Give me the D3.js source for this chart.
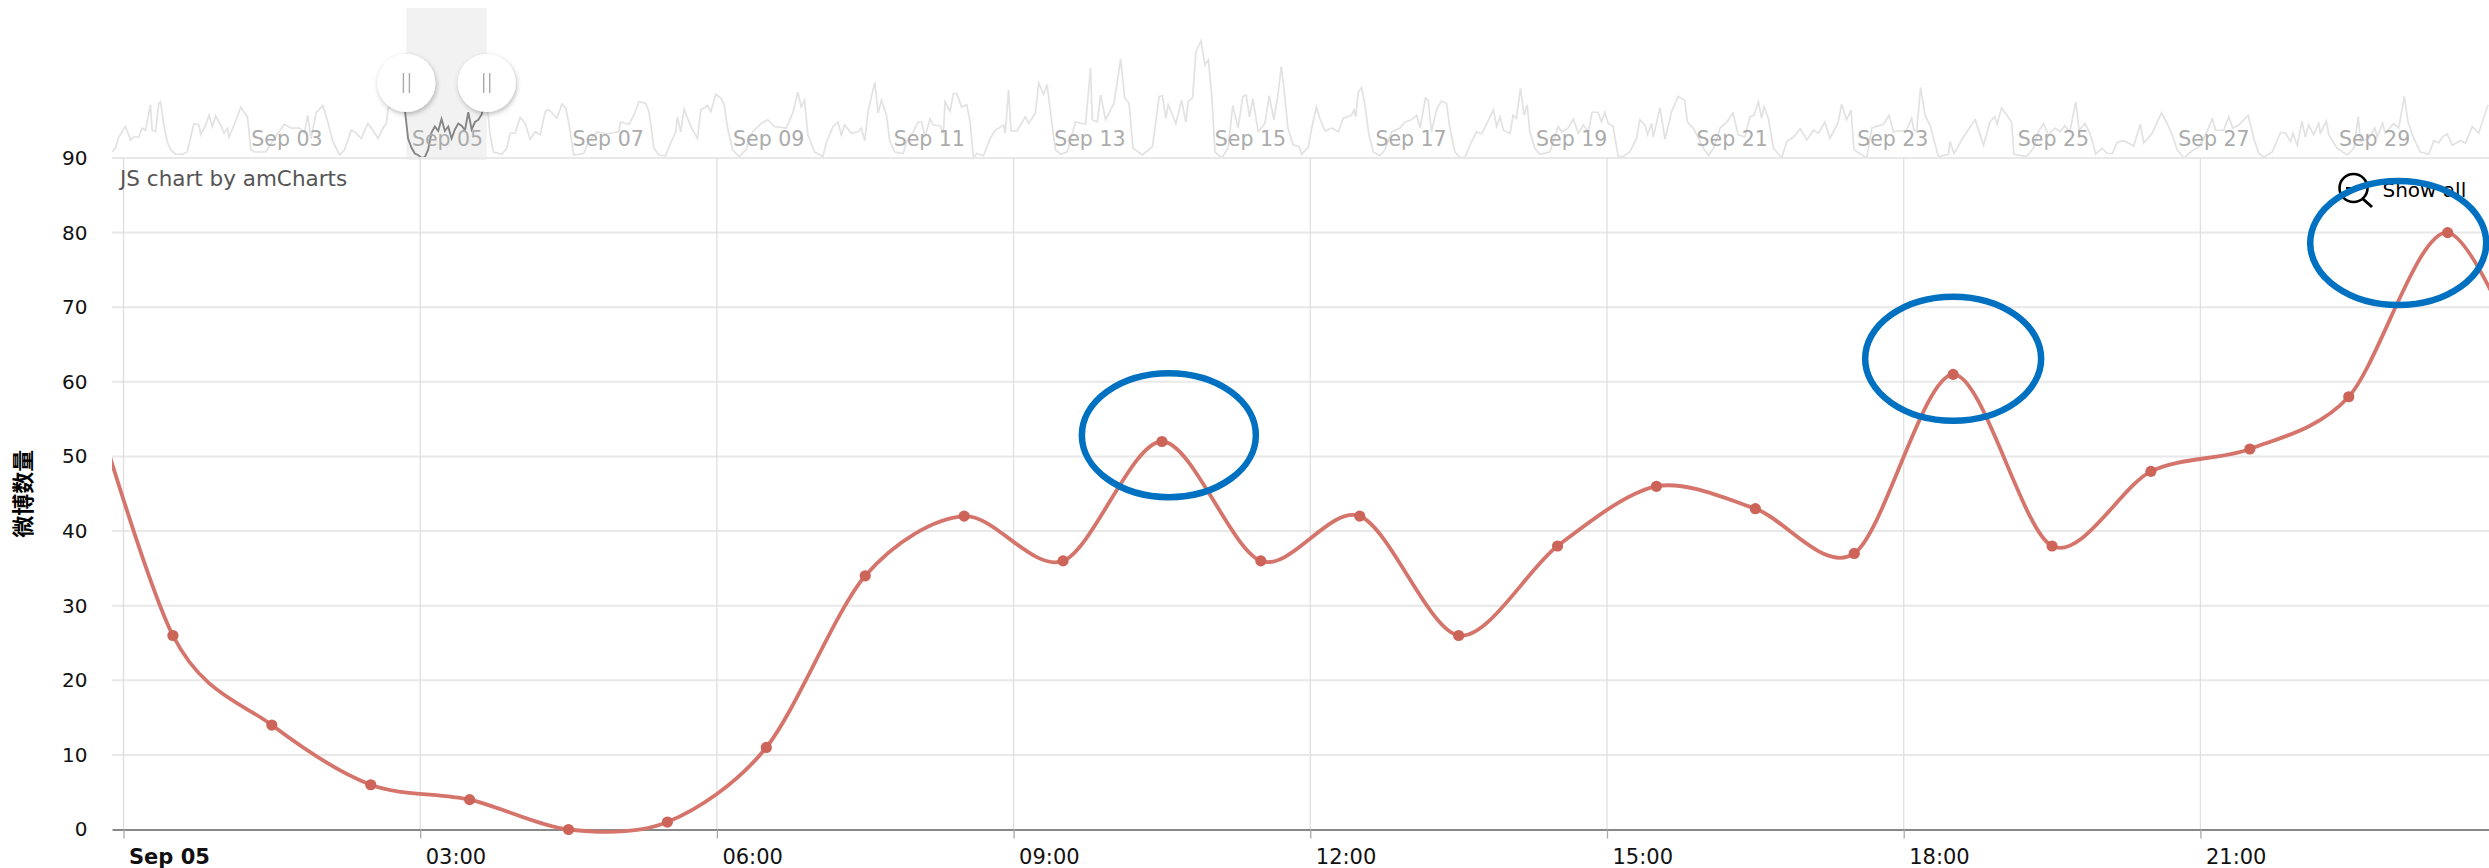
<!DOCTYPE html>
<html><head><meta charset="utf-8">
<script src="https://cdn.jsdelivr.net/npm/d3@7/dist/d3.min.js"></script>
<style>
html,body{margin:0;padding:0;background:#fff}
svg{display:block}
text{font-family:"DejaVu Sans",Verdana,sans-serif}
</style></head><body>
<div id="chart"></div>
<script>
// ---- data ----
const yTicks = [0,10,20,30,40,50,60,70,80,90];
const xTickHours = [0,3,6,9,12,15,18,21];
const navLabelDays = [3,5,7,9,11,13,15,17,19,21,23,25,27,29];
const yTitle = "微博数量";
const creditText = "JS chart by amCharts";
const zoomText = "Show all";
// hourly weibo counts for Sep 05, each at hh:30, with neighbours off-screen
const hourlyHours  = [-0.5,0.5,1.5,2.5,3.5,4.5,5.5,6.5,7.5,8.5,9.5,10.5,11.5,12.5,13.5,14.5,15.5,16.5,17.5,18.5,19.5,20.5,21.5,22.5,23.5,24.5];
const hourlyValues = [66,26,14,6,4,0,1,11,34,42,36,52,36,42,26,38,46,43,37,61,38,48,51,58,80,55];
// annotation rings: peak hour, centre value
const ringHours  = [10.57,18.5,23.0];
const ringValues = [52.85,63.1,78.6];
// overview series: [hours after Sep 1 08:00, value]
const navBefore = [[0,8],[1,13],[2,28],[4,42],[5,31],[5.5,24],[6.5,28],[8,28],[9,40],[10,37],[10.5,48],[11.5,71],[12,37],[13,35],[14,73],[14.5,75],[15.5,44],[16.5,22],[17.5,11],[19,5],[21,5],[22.5,8],[24,37],[24.5,46],[26,44],[26.5,31],[28,44],[29,57],[30,42],[31,56],[32.5,44],[33.5,33],[34.5,40],[35,28],[36.5,44],[38.5,68],[39,64],[40.5,55],[41.5,11],[42.5,8],[46,8],[48.5,26],[51.5,45],[53.5,40],[56,40],[57.5,33],[58.5,57],[59.5,26],[61,60],[63,70],[64.5,48],[66,22],[68,4],[69.5,11],[71.5,37],[72.5,35],[74.5,26],[76.5,46],[78,37],[79.5,26],[81,40],[82,46],[82.5,66],[84.5,72],[87.5,62]];
const navAfter = [[112.5,55],[113,31],[114,8],[116.5,5],[118,13],[119,33],[120.5,33],[122,54],[123.5,46],[125,25],[126.5,35],[128,31],[129.5,62],[130.5,65],[133,53],[134.5,72],[135.7,66],[137,35],[138,4],[141,6],[142.5,22],[145,35],[147.5,32],[151.5,35],[152,48],[154.5,45],[156,57],[157.5,75],[159.5,73],[160.5,62],[162,13],[163.5,4],[165.5,3],[166.5,15],[168.5,35],[169,55],[170,35],[171,65],[173,42],[175,26],[176,64],[178,70],[179,62],[180.5,85],[182,80],[183,71],[184,40],[185.5,11],[187.5,2],[189.5,11],[191.5,35],[194,46],[196,51],[198,42],[201.5,40],[203.5,60],[205,88],[206,68],[207,77],[208,31],[210,8],[212.5,2],[213.5,20],[215.5,42],[217,48],[218,31],[219,44],[221,33],[223,35],[224,40],[225,23],[226,62],[228,101],[229,60],[230,77],[231.5,57],[232.5,22],[234,8],[236.5,6],
[237.5,22],[239.5,35],[241,48],[242,48],[243,28],[244.5,52],[245.5,44],[247.5,43],[248.5,33],[249,75],[250.5,62],[251.5,86],[252.5,86],[254,68],[255.5,71],[256.5,48],[257.5,0],[258.5,6],[260.5,3],[262.5,26],[264,37],[266.5,44],[267,33],[268,91],[268.7,36],[270.5,36],[273,55],[274,46],[276,60],[277,100],[278.5,85],[279.5,98],[280.5,62],[282,11],[283.5,5],[285.5,8],[288,48],[291,45],[292.5,120],[293,51],[294.5,48],[295.5,84],[297,51],[299.5,73],[301.5,132],[302.7,80],[304,73],[305.2,13],[308,4],[311,15],[313,82],[314,83],[315,53],[315.7,71],[318,46],[319.7,77],[321,48],[321.7,76],[323,80],[324,142],[325.5,156],[326.7,124],[327.7,131],[328.7,84],[329.7,8],[331.7,0],[333.6,13],[335,70],[336.6,40],[338,82],[339,84],[340,55],[341,79],[342.6,35],[344.6,46],[345.9,83],[347.3,51],[348.5,84],[349.5,122],[350.2,97],[351.5,40],[353,18],[354.8,15],
[355.6,5],[357.6,15],[358.6,40],[360,68],[361,53],[362.6,36],[364.6,40],[366.6,35],[368,53],[370.5,57],[371.3,64],[371.8,55],[372.5,88],[373.5,94],[374.5,71],[375.7,31],[377,8],[379,3],[380.5,11],[382.5,35],[385,40],[386.5,48],[388.5,51],[390,57],[391,40],[392.6,80],[393.4,77],[394.4,35],[396,66],[397.4,76],[398.9,73],[399.9,40],[401.4,8],[402.9,1],[404.4,1],[406.4,22],[407.9,35],[409.4,32],[412.9,64],[413.9,42],[414.9,55],[415.9,37],[417.9,33],[418.8,57],[419.8,53],[421,93],[422.1,57],[423,71],[423.8,35],[425.3,13],[426.8,5],[429.8,8],[432.3,42],[433.3,35],[435.3,40],[436.8,52],[438.3,33],[439.8,44],[441.3,35],[442.4,61],[444.2,61],[445.2,48],[446.2,61],[447.2,46],[448.7,42],[450.2,2],[451.7,2],[453.7,8],[455.7,26],[456.7,51],[458.2,44],[459,31],[460.2,46],[460.7,28],[462.7,67],[464.2,25],[466.2,62],[468.1,82],[470.1,77],[470.9,48],[472.6,40],
[473.7,31],[475.7,13],[477.2,3],[478.7,13],[480.7,40],[482.7,48],[484.5,60],[486.1,31],[488.1,28],[489.6,55],[490.8,57],[492.1,75],[493.1,53],[493.8,68],[495.1,53],[496.6,13],[499.1,0],[500.6,22],[502.6,28],[504.6,39],[506.6,24],[508.6,37],[510.1,33],[512,48],[513.5,26],[516,48],[517,72],[518.5,51],[519.8,64],[520.7,11],[524.5,0],[526,40],[529.5,45],[531.2,57],[532.5,35],[536.4,37],[537.9,53],[538.6,37],[539.4,35],[540.6,94],[541.9,57],[543.4,44],[545.9,2],[548.9,5],[549.4,22],[550.6,6],[553.4,28],[556.9,51],[559.4,17],[561.3,48],[562.8,55],[563.5,45],[564.8,67],[567.8,48],[568.5,5],[572.3,2],[574.3,13],[575.8,35],[577.3,46],[578.8,31],[580.8,40],[582.3,35],[583.7,43],[585.2,35],[587,75],[588,37],[589.7,46],[591,35],
[592.4,15],[592.9,5],[594.9,13],[596.4,6],[597.9,6],[599.4,21],[601.4,23],[604.3,16],[606.3,45],[607.3,20],[609.8,33],[612.6,60],[614.3,46],[615.8,31],[617.3,11],[619.3,0],[621.3,8],[623.8,15],[625.3,26],[627.8,52],[628.8,37],[631.2,37],[632.7,55],[633.9,40],[635.7,44],[638.5,57],[640.2,26],[641.7,6],[643.2,1],[645.7,8],[648.2,34],[649.7,33],[651.2,22],[651.9,33],[653.2,17],[654.6,49],[655.6,28],[656.6,44],[658.1,31],[659.6,46],[660.1,33],[661.9,49],[662.6,31],[665.1,13],[668.1,4],[670.1,13],[671.4,55],[672.1,22],[674.6,26],[676.4,40],[677.1,28],[678.7,46],[679.5,33],[682,46],[683.5,40],[685.2,82],[686.3,48],[688,26],[690,8],[692.5,5],[694,23],[695.5,20],[696.5,28],[698,32],[699.5,17],[702,23],[703.5,20],[705.5,42],[707.4,33],[710.2,71]];

// ---- layout ----
const W = 2489, H = 868;
const plot = {left:112, right:2489, top:158, bottom:829.5};
const sep5 = new Date(2015,8,5);
const navStart = new Date(2015,8,1,8);
const atHour = (base,h) => new Date(base.getTime()+h*3600e3);

const x = d3.scaleTime().domain([atHour(sep5,-0.116),atHour(sep5,23.918)]).range([plot.left,plot.right]);
const y = d3.scaleLinear().domain([0,90]).range([plot.bottom,plot.top]);
const navX = d3.scaleTime().domain([navStart,atHour(navStart,710.5)]).range([plot.left,plot.right]);
const navY = d3.scaleLinear().domain([0,90]).range([plot.top,plot.top-67.5]);

const svg = d3.select("#chart").append("svg").attr("width",W).attr("height",H).attr("viewBox",[0,0,W,H]);
const defs = svg.append("defs");
defs.append("clipPath").attr("id","plotClip").append("rect")
  .attr("x",plot.left).attr("y",plot.top-6).attr("width",plot.right-plot.left).attr("height",plot.bottom-plot.top+14);
const shadow = defs.append("filter").attr("id","hs").attr("x","-40%").attr("y","-40%").attr("width","180%").attr("height","180%");
shadow.append("feDropShadow").attr("dx",1).attr("dy",2).attr("stdDeviation",2.5).attr("flood-color","#000").attr("flood-opacity",0.28);

// ---- overview (behind) ----
const selA = sep5, selB = atHour(sep5,24);
svg.append("rect").attr("x",navX(selA)).attr("y",8).attr("width",navX(selB)-navX(selA)).attr("height",152).attr("fill","#f2f2f2");

const navLine = d3.line().x(d=>navX(atHour(navStart,d[0]))).y(d=>navY(d[1]));
const hourLine = d3.line().x(d=>navX(atHour(sep5,d[0]))).y(d=>navY(d[1]));
const navHourly = hourlyHours.map((h,i)=>[h,hourlyValues[i]]);
svg.append("path").datum(navBefore.concat(navHourly.slice(0,1).map(d=>[d[0]+88,d[1]])))
  .attr("d",navLine).attr("fill","none").attr("stroke","#e2e2e2").attr("stroke-width",1.7);
svg.append("path").datum(navHourly.slice(-2).map(d=>[d[0]+88,d[1]]).concat(navAfter))
  .attr("d",navLine).attr("fill","none").attr("stroke","#e2e2e2").attr("stroke-width",1.7);
svg.append("path").datum(navHourly.slice(0,-1))
  .attr("d",hourLine).attr("fill","none").attr("stroke","#858585").attr("stroke-width",1.9);

const navAxis = d3.axisBottom(navX)
  .tickValues(navLabelDays.map(d=>new Date(2015,8,d)))
  .tickFormat(d3.timeFormat("%b %d")).tickSize(0).tickPadding(0);
const navG = svg.append("g").attr("transform","translate(0,127)").call(navAxis);
navG.select(".domain").remove();
navG.selectAll("text").attr("text-anchor","start").attr("x",5).attr("y",19).attr("dy",0)
  .attr("font-size",20.5).attr("font-family","DejaVu Sans").attr("fill","#ababab");

// ---- grid and axes ----
const yAxis = d3.axisLeft(y).tickValues(yTicks).tickSize(0).tickPadding(0);
const yG = svg.append("g").attr("transform",`translate(${plot.left-24.5},0)`).call(yAxis);
yG.select(".domain").remove();
yG.selectAll("text").attr("font-size",20).attr("font-family","DejaVu Sans").attr("fill","#111");

svg.append("g").selectAll("line").data(yTicks.filter(d=>d>0)).join("line")
  .attr("x1",plot.left).attr("x2",plot.right).attr("y1",d=>y(d)).attr("y2",d=>y(d))
  .attr("stroke","#e8e8e8").attr("stroke-width",2);

const xTicks = xTickHours.map(h=>atHour(sep5,h));
svg.append("g").selectAll("line").data(xTicks).join("line")
  .attr("x1",d=>x(d)).attr("x2",d=>x(d)).attr("y1",plot.top).attr("y2",plot.bottom)
  .attr("stroke","#dfdfdf").attr("stroke-width",1.3);

const xAxis = d3.axisBottom(x).tickValues(xTicks)
  .tickFormat(d=>d.getHours()===0 ? d3.timeFormat("%b %d")(d) : d3.timeFormat("%H:%M")(d))
  .tickSizeOuter(0).tickSizeInner(9);
const xG = svg.append("g").attr("transform",`translate(0,${plot.bottom})`).call(xAxis);
xG.select(".domain").attr("stroke","#888").attr("stroke-width",2);
xG.selectAll(".tick line").attr("stroke","#aaa").attr("stroke-width",1.3);
xG.selectAll("text").attr("text-anchor","start").attr("x",5).attr("y",34).attr("dy",0)
  .attr("font-size",21).attr("font-family","DejaVu Sans").attr("fill","#111")
  .attr("font-weight",d=>d.getHours()===0?"bold":"normal");

svg.append("text").attr("transform",`translate(31,${(plot.top+plot.bottom)/2}) rotate(-90)`)
  .attr("text-anchor","middle").attr("font-size",22).attr("font-weight","bold")
  .attr("style",'font-family:"Noto Sans CJK SC"').attr("fill","#000").text(yTitle);

svg.append("text").attr("x",120).attr("y",186).attr("font-size",21.5).attr("fill","#555").text(creditText);

// ---- main series ----
const mainData = hourlyHours.map((h,i)=>({t:atHour(sep5,h),v:hourlyValues[i]}));
const line = d3.line().x(d=>x(d.t)).y(d=>y(d.v)).curve(d3.curveCardinal.tension(0.1));
const mainG = svg.append("g").attr("clip-path","url(#plotClip)");
mainG.append("path").datum(mainData).attr("d",line).attr("fill","none").attr("stroke","#d4746b").attr("stroke-width",3.8);
mainG.selectAll("circle").data(mainData).join("circle")
  .attr("cx",d=>x(d.t)).attr("cy",d=>y(d.v)).attr("r",5.6).attr("fill","#cd6459");

// ---- zoom-out control ----
const zoomG = svg.append("g");
zoomG.append("circle").attr("cx",2353.5).attr("cy",188).attr("r",14).attr("fill","none").attr("stroke","#000").attr("stroke-width",2.6);
zoomG.append("line").attr("x1",2363).attr("y1",199).attr("x2",2372).attr("y2",207).attr("stroke","#000").attr("stroke-width",3);
zoomG.append("line").attr("x1",2346).attr("y1",188).attr("x2",2361).attr("y2",188).attr("stroke","#000").attr("stroke-width",2);
svg.append("text").attr("x",2382.5).attr("y",197).attr("font-size",20).attr("fill","#000").text(zoomText);

// ---- annotation rings ----
const ringRadii = [[87,62],[88,62],[88,62]];
svg.append("g").selectAll("ellipse").data(ringHours).join("ellipse")
  .attr("cx",d=>x(atHour(sep5,d))).attr("cy",(d,i)=>y(ringValues[i]))
  .attr("rx",(d,i)=>ringRadii[i][0]).attr("ry",(d,i)=>ringRadii[i][1])
  .attr("fill","none").attr("stroke","#0070c0").attr("stroke-width",6.5);

// ---- handles ----
const handles = svg.append("g").selectAll("g").data([selA,selB]).join("g")
  .attr("transform",d=>`translate(${navX(d)},83)`);
handles.append("circle").attr("r",29).attr("fill","#fff").attr("filter","url(#hs)");
handles.selectAll("line").data([-3,3]).join("line")
  .attr("x1",d=>d).attr("x2",d=>d).attr("y1",-10).attr("y2",10).attr("stroke","#aaa").attr("stroke-width",1.4);
</script>
</body></html>
